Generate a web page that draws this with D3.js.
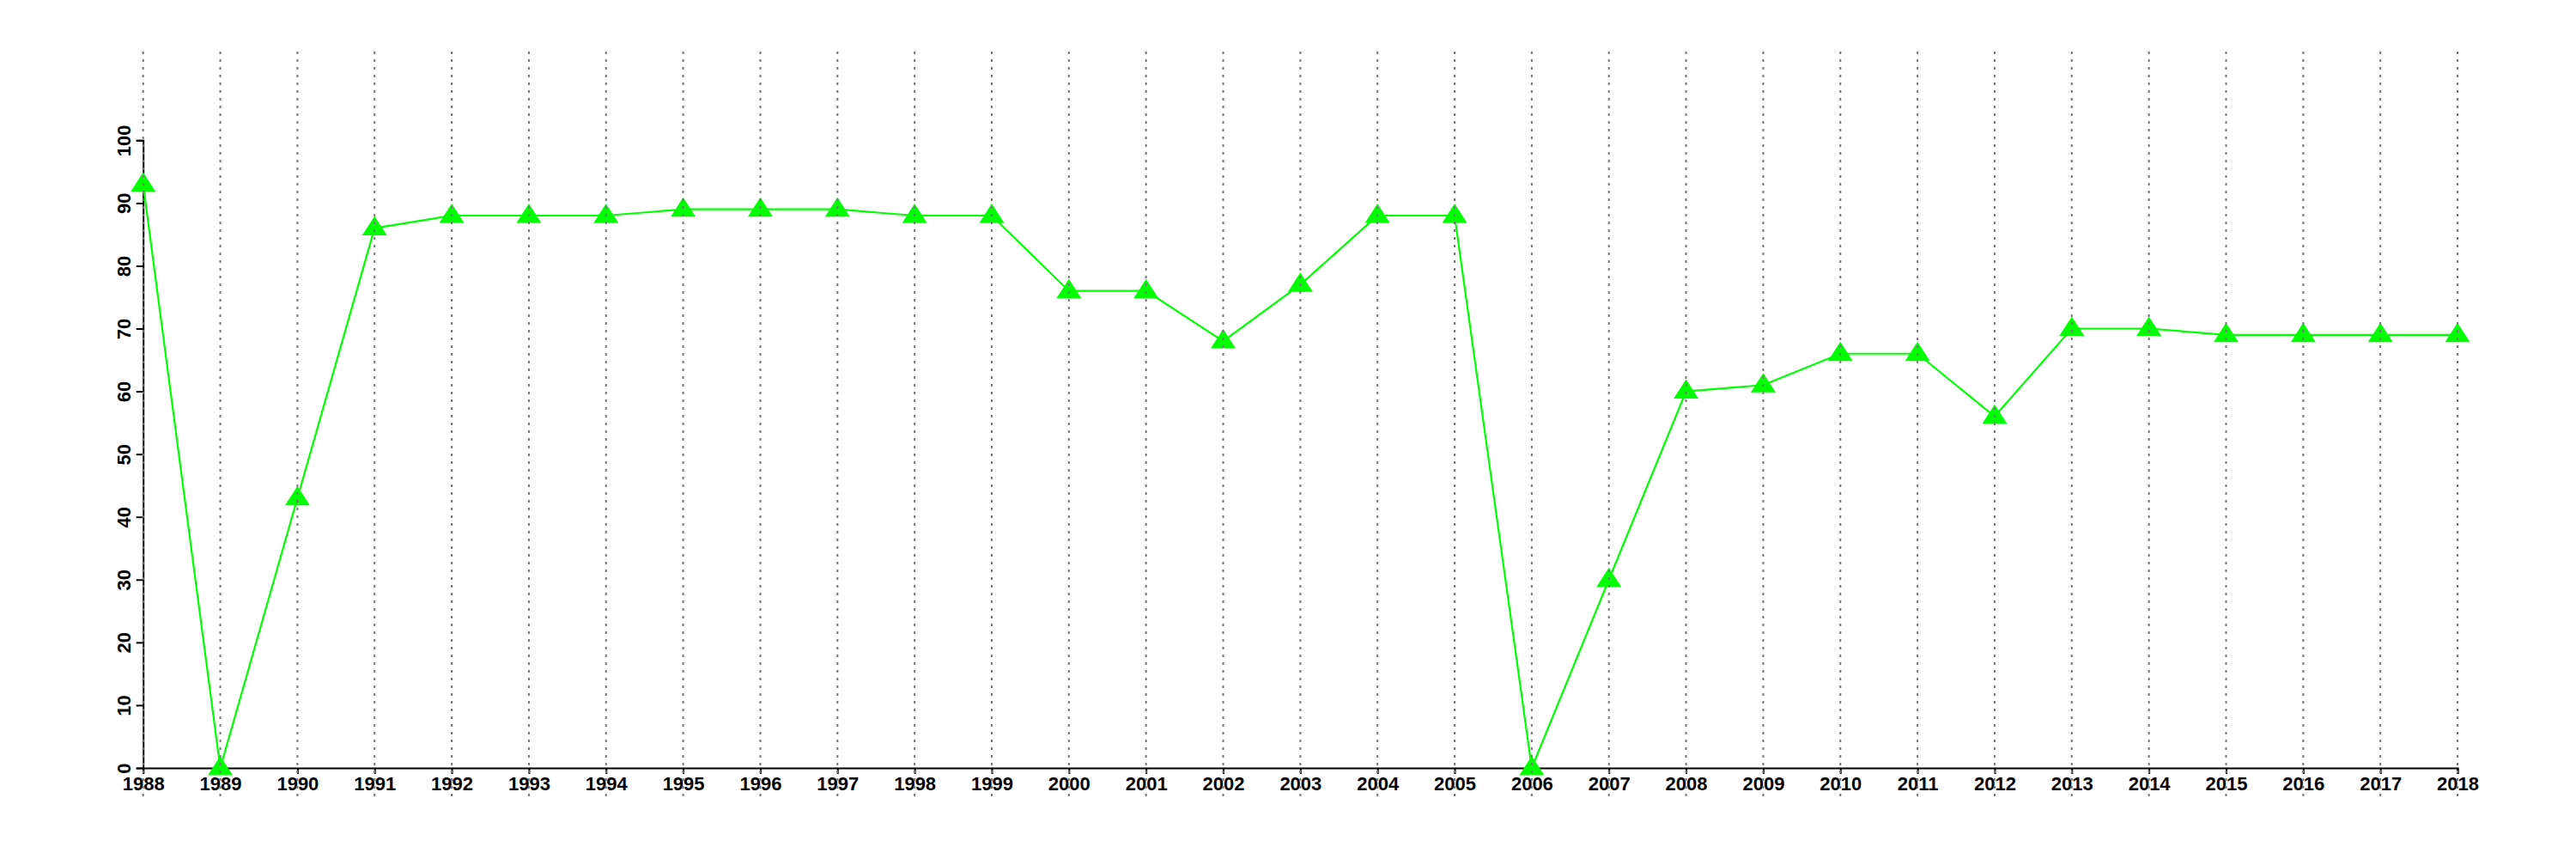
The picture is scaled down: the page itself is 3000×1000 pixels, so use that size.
<!DOCTYPE html>
<html>
<head>
<meta charset="utf-8">
<script src="https://cdn.jsdelivr.net/npm/d3@7"></script>
<style>
  html, body { margin: 0; padding: 0; background: #ffffff; }
  svg { display: block; }
  text { font-family: "Liberation Sans", Arial, Helvetica, sans-serif; font-weight: bold; }
</style>
</head>
<body>
<svg id="chart" width="3000" height="1000"></svg>
<script>
const years = [1988,1989,1990,1991,1992,1993,1994,1995,1996,1997,1998,1999,2000,2001,2002,2003,2004,2005,2006,2007,2008,2009,2010,2011,2012,2013,2014,2015,2016,2017,2018];
const values = [93,0,43,86,88,88,88,89,89,89,88,88,76,76,68,77,88,88,0,30,60,61,66,66,56,70,70,69,69,69,69];
const yTicks = [0,10,20,30,40,50,60,70,80,90,100];

const svg = d3.select("#chart");
const W = 3000, H = 1000;
svg.append("rect").attr("width", W).attr("height", H).attr("fill", "#ffffff");

const x = d3.scaleLinear().domain([1988, 2018]).range([166.7, 2862]);
const y = d3.scaleLinear().domain([0, 100]).range([894, 163.3]);

const fontSize = 22;

// X axis
const xAxis = svg.append("g").attr("transform", `translate(0,${y(0)})`)
  .call(d3.axisBottom(x).tickValues(years).tickFormat(d3.format("d")).tickSize(7).tickPadding(4));
xAxis.select(".domain").attr("stroke", "#000").attr("stroke-width", 2);
xAxis.selectAll(".tick line").attr("stroke", "#000").attr("stroke-width", 2);
xAxis.selectAll(".tick text")
  .attr("fill", "#000")
  .attr("font-size", fontSize)
  .attr("font-family", "'Liberation Sans', Arial, sans-serif")
  .attr("font-weight", "bold")
  .attr("dy", null)
  .attr("y", 26);

// Y axis
const yAxis = svg.append("g").attr("transform", `translate(${x(1988)},0)`)
  .call(d3.axisLeft(y).tickValues(yTicks).tickFormat(d3.format("d")).tickSize(8));
yAxis.select(".domain").attr("stroke", "#000").attr("stroke-width", 2);
yAxis.selectAll(".tick line").attr("stroke", "#000").attr("stroke-width", 2);
yAxis.selectAll(".tick text")
  .attr("fill", "#000")
  .attr("font-size", fontSize)
  .attr("font-family", "'Liberation Sans', Arial, sans-serif")
  .attr("font-weight", "bold")
  .attr("x", null).attr("dy", null)
  .attr("text-anchor", "middle")
  .attr("transform", "translate(-15,0) rotate(-90)");

// Line
const line = d3.line().x((d, i) => x(years[i])).y(d => y(d));
svg.append("path")
  .datum(values)
  .attr("d", line)
  .attr("fill", "none")
  .attr("stroke", "#00ff00")
  .attr("stroke-width", 2.2)
  .attr("stroke-linejoin", "miter");

// Triangle markers
const tri = "M0,-14L14.5,8.5L-14.5,8.5Z";
svg.append("g").selectAll("path")
  .data(values)
  .join("path")
  .attr("d", tri)
  .attr("transform", (d, i) => `translate(${x(years[i])},${y(d)})`)
  .attr("fill", "#00ff00");

// Vertical dotted grid lines (drawn on top)
svg.append("g").selectAll("line")
  .data(years)
  .join("line")
  .attr("x1", d => x(d)).attr("x2", d => x(d))
  .attr("y1", 60).attr("y2", 928)
  .attr("stroke", "#777777")
  .attr("stroke-width", 2)
  .attr("stroke-dasharray", "3,6");
</script>
</body>
</html>
